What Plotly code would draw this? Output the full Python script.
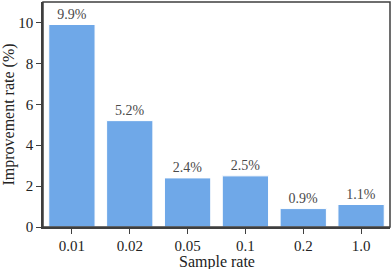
import plotly.graph_objects as go

categories = ["0.01", "0.02", "0.05", "0.1", "0.2", "1.0"]
improvement = [9.9, 5.2, 2.4, 2.5, 0.9, 1.1]
labels = ["9.9%", "5.2%", "2.4%", "2.5%", "0.9%", "1.1%"]
y_ticks = [0, 2, 4, 6, 8, 10]

font_family = "Liberation Serif, Times New Roman, serif"
axis_color = "#3f3f3f"

fig = go.Figure(
    go.Bar(
        x=list(range(len(categories))),
        y=improvement,
        text=labels,
        textposition="outside",
        textfont=dict(family=font_family, size=14, color="#4a4a4a"),
        marker=dict(color="#6FA8E8", line=dict(color="white", width=1)),
        width=0.8,
        cliponaxis=False,
    )
)

fig.update_layout(
    width=392,
    height=269,
    margin=dict(l=43, r=2, t=2, b=42, autoexpand=False),
    plot_bgcolor="white",
    paper_bgcolor="white",
    font=dict(family=font_family, size=16, color="#222222"),
    showlegend=False,
    bargap=0.2,
    shapes=[
        dict(
            type="rect", xref="paper", yref="paper",
            x0=0, x1=1, y0=0, y1=1,
            line=dict(color=axis_color, width=1.5),
            layer="above",
        )
    ],
    annotations=[
        dict(
            text="Sample rate", xref="paper", yref="paper",
            x=0.5, y=0, xanchor="center", yanchor="middle",
            yshift=-35, showarrow=False,
            font=dict(family=font_family, size=16, color="#222222"),
        )
    ],
)

fig.update_xaxes(
    tickmode="array",
    tickvals=list(range(len(categories))),
    ticktext=categories,
    range=[-0.5, 5.5],
    showline=True,
    linecolor=axis_color,
    linewidth=1.5,
    ticks="outside",
    ticklen=5,
    tickwidth=1.2,
    tickcolor=axis_color,
    ticklabelstandoff=-1,
    showgrid=False,
    zeroline=False,
    automargin=False,
    tickfont=dict(size=15),
)

fig.update_yaxes(
    tickmode="array",
    tickvals=y_ticks,
    range=[0, 11],
    showline=True,
    linecolor=axis_color,
    linewidth=1.5,
    ticks="outside",
    ticklen=5,
    tickwidth=1.2,
    tickcolor=axis_color,
    showgrid=False,
    zeroline=False,
    automargin=False,
    title=dict(text="Improvement rate (%)", font=dict(size=16)),
    tickfont=dict(size=15),
)

fig.write_html(
    "out.html",
    config={"displayModeBar": False},
    post_script="document.body.style.margin='0';",
)
